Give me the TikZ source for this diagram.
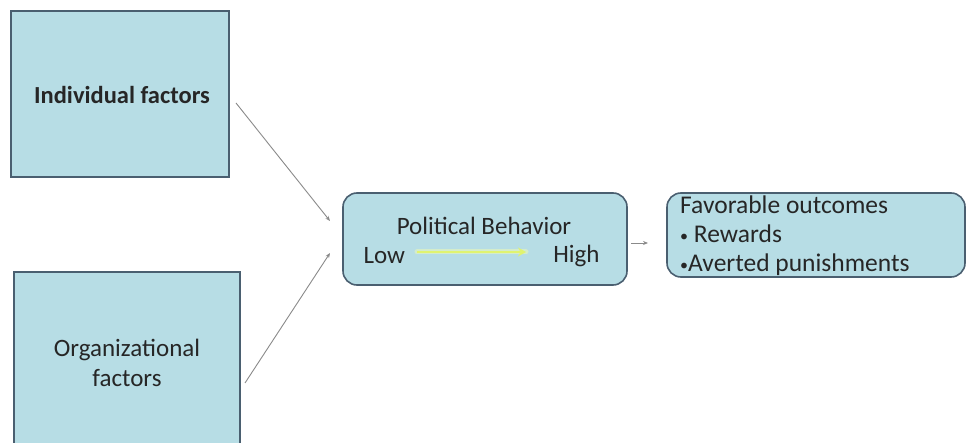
\documentclass[tikz,border=0pt]{standalone}
\usepackage{fontspec}
\setmainfont{Carlito}
\usetikzlibrary{arrows.meta}
\definecolor{boxfill}{HTML}{B7DDE5}
\definecolor{boxline}{HTML}{4A5F70}
\definecolor{linkgray}{HTML}{8A8A8A}
\definecolor{glow}{HTML}{D8F08C}
\newcommand{\smallbullet}{{\fontsize{16}{16}\selectfont\raisebox{1pt}{•}}}
\begin{document}
\begin{tikzpicture}[x=1pt,y=-1pt,
  factorbox/.style={draw=boxline,line width=1.6pt,fill=boxfill,inner sep=0pt},
  roundbox/.style={draw=boxline,line width=1.6pt,fill=boxfill,rounded corners=14pt},
  link/.style={draw=linkgray,line width=0.9pt,-{Stealth[length=5pt,width=4pt]}},
  txt/.style={font=\fontsize{25}{30}\selectfont,text=black!85}]
\useasboundingbox (0,0) rectangle (967,443);
\begin{scope}
\clip (0,0) rectangle (967,443);
% factor boxes on the left
\draw[factorbox] (11,11) rectangle (229,177);
\node[txt,font=\fontsize{24.5}{30}\selectfont\bfseries] (indiv) at (122,95) {Individual factors};
\draw[factorbox] (14,272) rectangle (240,460);
\node[txt,align=center] (org) at (127,363) {Organizational\\factors};
% central and outcome boxes
\draw[roundbox] (343,193) rectangle (627,285);
\draw[roundbox] (667,193) rectangle (965,277);
\end{scope}
\coordinate (indivout) at (236,103);
\coordinate (orgout) at (245,383);
\coordinate (pbin1) at (330,221);
\coordinate (pbin2) at (330,253);
\coordinate (pbout) at (631,243);
\coordinate (favin) at (648,243);
\draw[link] (indivout) -- (pbin1);
\draw[link] (orgout) -- (pbin2);
\draw[link] (pbout) -- (favin);
% political behaviour box contents
\node[txt] (pb) at (484,226) {Political Behavior};
\node[txt,anchor=west] (low) at (360,256) {Low};
\node[txt,anchor=east] (high) at (603,256) {High};
\coordinate (lowend) at (417,252);
\coordinate (highend) at (526,252);
\draw[glow!60,line width=5pt,line cap=round,opacity=0.6] (lowend) -- (highend);
\draw[glow!80!yellow,line width=2.4pt,-{Stealth[length=8pt,width=9pt]}] (lowend) -- (highend);
% outcome box contents
\node[txt,anchor=west,align=left,inner sep=0pt,font=\fontsize{25.5}{29}\selectfont] (fav) at (680,236) {Favorable outcomes\\\smallbullet\ Rewards\\\smallbullet Averted punishments};
\end{tikzpicture}
\end{document}
